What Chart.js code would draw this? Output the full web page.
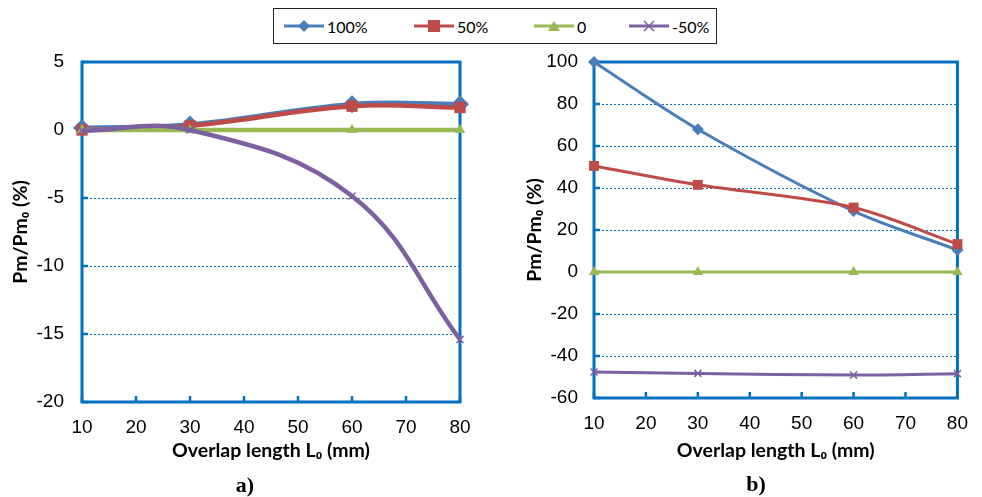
<!DOCTYPE html>
<html>
<head>
<meta charset="utf-8">
<script src="https://cdn.jsdelivr.net/npm/chart.js@4.4.0/dist/chart.umd.min.js"></script>
<style>
  body { margin: 0; background: #fff; width: 982px; height: 497px; position: relative; overflow: hidden; }
  canvas { position: absolute; top: 0; }
  #legend { position: absolute; left: 273px; top: 8px; width: 444px; height: 36px; border: 1.5px solid #222; box-sizing: border-box; }
  .item { position: absolute; top: 0; height: 100%; display: flex; align-items: center; font: 16px Lato, sans-serif; color: #000; }
  .item svg { margin-right: 3px; }
  .cap { position: absolute; font: bold 22px "Liberation Serif", serif; transform: translate(-50%, -50%); }
</style>
</head>
<body>
<div id="legend"></div>
<canvas id="chartA" width="490" height="497" style="left:0"></canvas>
<canvas id="chartB" width="492" height="497" style="left:490px"></canvas>
<div class="cap" style="left:245px; top:485px">a)</div>
<div class="cap" style="left:756px; top:484px">b)</div>
<script>
// overlap length (mm)
const overlap = [10, 30, 60, 80];
const seriesNames = ['100%', '50%', '0', '-50%'];

// a) Pm/Pm0 (%)
const a100 = [0.15, 0.4, 1.9, 1.9];
const a50 = [0.0, 0.3, 1.75, 1.65];
const a0 = [0, 0, 0, 0];
const aM50 = [-0.05, 0, -4.85, -15.4];

// b) Pm/Pm0 (%)
const b100 = [100, 68, 29, 10.5];
const b50 = [50.5, 41.5, 30.7, 13.3];
const b0 = [0, 0, 0, 0];
const bM50 = [-47.6, -48.3, -49.1, -48.4];

const colors = ['#4A7EBB', '#BE4B48', '#98B954', '#7D60A0'];
const styles = ['rectRot', 'rect', 'triangle', 'crossRot'];
const AXIS = '#0070C0';
const TITLE_FONT = { family: 'Lato', weight: 'bold', size: 19.5 };

// legend
const legendX = [10, 140, 260, 355];
const legendEl = document.getElementById('legend');
seriesNames.forEach(function (name, i) {
  let mark = '';
  if (i === 0) mark = '<polygon points="20,2 26,8 20,14 14,8" fill="' + colors[i] + '"/>';
  if (i === 1) mark = '<rect x="14" y="2" width="12" height="12" fill="' + colors[i] + '"/>';
  if (i === 2) mark = '<polygon points="20,3 26,13 14,13" fill="' + colors[i] + '"/>';
  if (i === 3) mark = '<path d="M15,3 L25,13 M25,3 L15,13" stroke="' + colors[i] + '" stroke-width="1.5"/>';
  const el = document.createElement('div');
  el.className = 'item';
  el.style.left = legendX[i] + 'px';
  el.innerHTML = '<svg width="40" height="16"><line x1="0" y1="8" x2="40" y2="8" stroke="' + colors[i] +
    '" stroke-width="3"/>' + mark + '</svg>' + name;
  legendEl.appendChild(el);
});

// plot frame + inner tick marks
const framePlugin = {
  id: 'frame',
  beforeDatasetsDraw(chart) {
    const ctx = chart.ctx, a = chart.chartArea, x = chart.scales.x, y = chart.scales.y;
    ctx.save();
    ctx.strokeStyle = AXIS;
    ctx.lineWidth = 3;
    ctx.strokeRect(a.left, a.top, a.right - a.left, a.bottom - a.top);
    ctx.lineWidth = 2.5;
    ctx.beginPath();
    x.ticks.forEach(function (t) {
      const px = x.getPixelForValue(t.value);
      ctx.moveTo(px, a.bottom); ctx.lineTo(px, a.bottom - 6);
    });
    y.ticks.forEach(function (t) {
      const py = y.getPixelForValue(t.value);
      ctx.moveTo(a.left, py); ctx.lineTo(a.left + 6, py);
    });
    ctx.stroke();
    ctx.restore();
  }
};

function makeChart(id, values, cfg) {
  const datasets = values.map(function (vals, i) {
    return {
      label: seriesNames[i],
      data: overlap.map(function (x, j) { return { x: x, y: vals[j] }; }),
      borderColor: colors[i],
      backgroundColor: colors[i],
      borderWidth: cfg.lineWidth,
      pointStyle: styles[i],
      pointRadius: cfg.radii[i],
      pointBorderWidth: i === 3 ? 1.5 : 0,
      pointBorderColor: colors[i],
      tension: cfg.tension,
      clip: false,
      order: 4 - i
    };
  });
  return new Chart(document.getElementById(id).getContext('2d'), {
    type: 'line',
    data: { datasets: datasets },
    plugins: [framePlugin],
    options: {
      responsive: false,
      animation: false,
      events: [],
      layout: { padding: cfg.padding },
      plugins: { legend: { display: false }, tooltip: { enabled: false } },
      scales: {
        x: {
          type: 'linear', min: 10, max: 80,
          ticks: { stepSize: 10, padding: 14, color: '#000', font: { family: 'Liberation Sans', size: 19 } },
          grid: { display: false, drawTicks: false },
          border: { display: false },
          title: {
            display: true, text: 'Overlap length L\u2080 (mm)', color: '#000',
            font: TITLE_FONT, padding: { top: 0, bottom: 0 }
          },
          afterFit: function (s) { s.height = cfg.xHeight; }
        },
        y: {
          min: cfg.yMin, max: cfg.yMax,
          ticks: { stepSize: cfg.yStep, padding: cfg.yTickPad, color: '#000', font: { family: 'Liberation Sans', size: 19 } },
          grid: { color: AXIS, lineWidth: 1, drawTicks: false },
          border: { display: false, dash: [2, 2] },
          title: {
            display: true, text: 'Pm/Pm\u2080 (%)', color: '#000',
            font: TITLE_FONT, padding: { top: cfg.yTitlePad, bottom: 0 }
          },
          afterFit: function (s) { s.width = cfg.yWidth; }
        }
      }
    }
  });
}

makeChart('chartA', [a100, a50, a0, aM50], {
  yMin: -20, yMax: 5, yStep: 5,
  lineWidth: 4.5, radii: [9, 8, 6, 5], tension: 0.4,
  padding: { top: 62, right: 30, bottom: 35, left: 0 },
  yWidth: 82, xHeight: 60, yTickPad: 18, yTitlePad: 9
});

makeChart('chartB', [b100, b50, b0, bM50], {
  yMin: -60, yMax: 100, yStep: 20,
  lineWidth: 3, radii: [6, 7, 6, 5], tension: 0.3,
  padding: { top: 62, right: 24, bottom: 35, left: 0 },
  yWidth: 104, xHeight: 64, yTickPad: 16, yTitlePad: 33
});
</script>
</body>
</html>
